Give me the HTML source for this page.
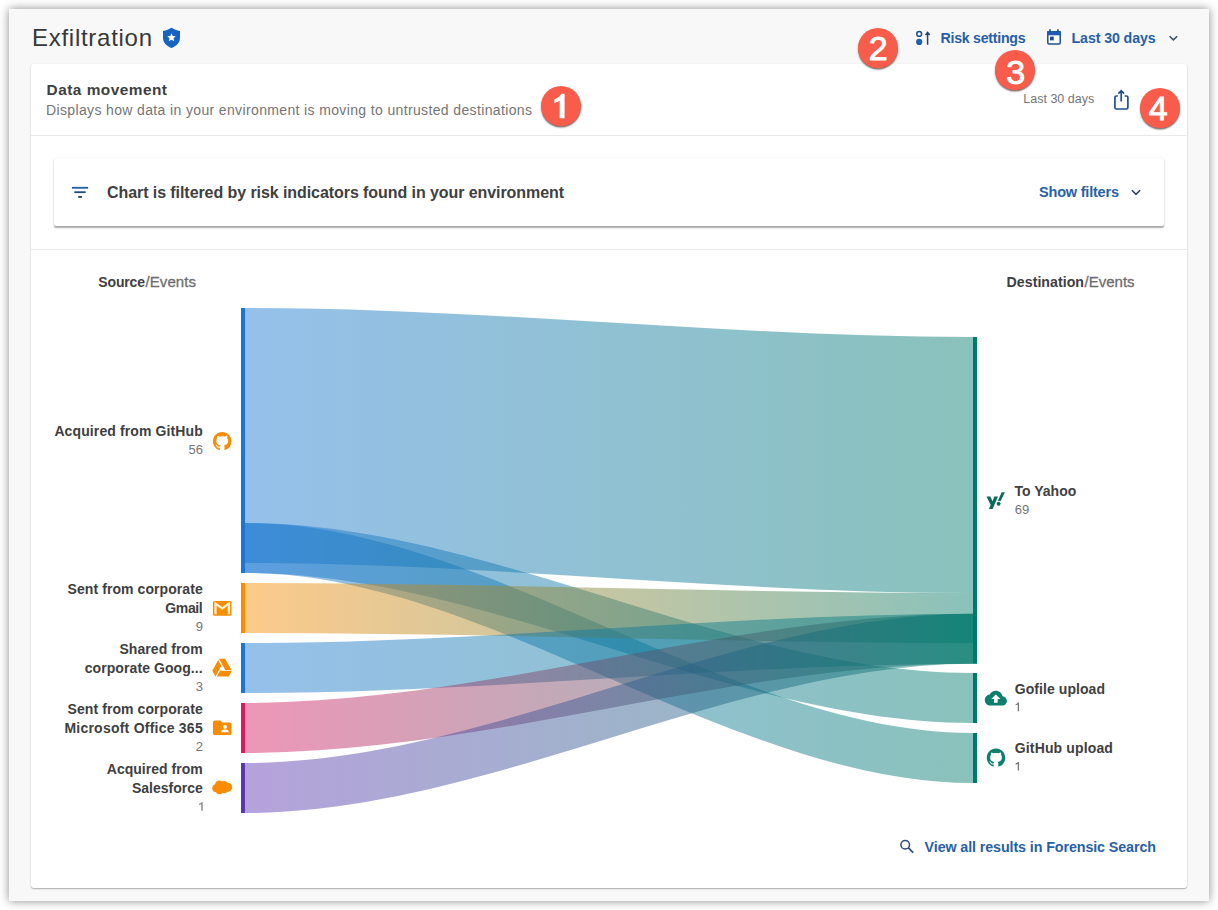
<!DOCTYPE html>
<html><head><meta charset="utf-8"><title>Exfiltration</title>
<style>
html,body{margin:0;padding:0;}
body{width:1218px;height:910px;position:relative;overflow:hidden;background:#fff;font-family:"Liberation Sans",sans-serif;color:#404040;}
.abs{position:absolute;white-space:nowrap;}
#panel{position:absolute;left:9px;top:9px;width:1200px;height:892px;background:#f8f8f8;box-shadow:0 0 9px rgba(0,0,0,.46);}
#card{position:absolute;left:31px;top:64px;width:1156px;height:823.5px;background:#fff;border-radius:3px;box-shadow:0 1px 1.5px rgba(0,0,0,.3),0 0 2px rgba(0,0,0,.06);}
.hr{position:absolute;left:31px;width:1156px;height:1px;background:#e9e9e9;}
#fbox{position:absolute;left:54px;top:158px;width:1110px;height:68px;background:#fff;border-radius:2px;box-shadow:0 1.5px 1.5px rgba(0,0,0,.33),0 0 2px rgba(0,0,0,.07);}
.b{font-weight:bold;}
.blue{color:#2561a9;}
.lbl{font-size:15px;font-weight:bold;color:#424242;line-height:18px;}
.cnt{font-size:12.5px;color:#777;line-height:18px;font-weight:normal;}
.r{text-align:right;}
.badge{position:absolute;width:40px;height:40px;border-radius:50%;background:#f95c4b;box-shadow:0 1.5px 1.5px rgba(60,30,30,.65);}
.bd{position:absolute;width:40px;height:40px;line-height:40px;text-align:center;color:#fff;font-size:34px;font-weight:normal;-webkit-text-stroke:0.9px #fff;}
</style></head><body>
<div id="panel"></div>
<div id="card"></div>
<div class="hr" style="top:135px"></div>
<div id="fbox"></div>
<div class="hr" style="top:249px"></div>
<svg width="1218" height="910" style="position:absolute;left:0;top:0"><defs><linearGradient id="gA" gradientUnits="userSpaceOnUse" x1="245" y1="0" x2="973" y2="0"><stop offset="0" stop-color="#1976d2"/><stop offset="1" stop-color="#00796b"/></linearGradient><linearGradient id="gB" gradientUnits="userSpaceOnUse" x1="245" y1="0" x2="973" y2="0"><stop offset="0" stop-color="#1976d2"/><stop offset="1" stop-color="#00796b"/></linearGradient><linearGradient id="gC" gradientUnits="userSpaceOnUse" x1="245" y1="0" x2="973" y2="0"><stop offset="0" stop-color="#1976d2"/><stop offset="1" stop-color="#00796b"/></linearGradient><linearGradient id="gD" gradientUnits="userSpaceOnUse" x1="245" y1="0" x2="973" y2="0"><stop offset="0" stop-color="#fb8c00"/><stop offset="1" stop-color="#00796b"/></linearGradient><linearGradient id="gE" gradientUnits="userSpaceOnUse" x1="245" y1="0" x2="973" y2="0"><stop offset="0" stop-color="#1976d2"/><stop offset="1" stop-color="#00796b"/></linearGradient><linearGradient id="gF" gradientUnits="userSpaceOnUse" x1="245" y1="0" x2="973" y2="0"><stop offset="0" stop-color="#d81b60"/><stop offset="1" stop-color="#00796b"/></linearGradient><linearGradient id="gG" gradientUnits="userSpaceOnUse" x1="245" y1="0" x2="973" y2="0"><stop offset="0" stop-color="#5e35b1"/><stop offset="1" stop-color="#00796b"/></linearGradient></defs><path d="M245,308 C487.67,308 730.33,337 973,337 L973,593 C730.33,593 487.67,563 245,563 Z" fill="url(#gA)" fill-opacity="0.46"/>
<path d="M245,523 C487.67,523 730.33,673 973,673 L973,723 C730.33,723 487.67,573 245,573 Z" fill="url(#gB)" fill-opacity="0.46"/>
<path d="M245,523 C487.67,523 730.33,733 973,733 L973,783 C730.33,783 487.67,573 245,573 Z" fill="url(#gC)" fill-opacity="0.46"/>
<path d="M245,583 C487.67,583 730.33,593 973,593 L973,643 C730.33,643 487.67,633 245,633 Z" fill="url(#gD)" fill-opacity="0.46"/>
<path d="M245,643 C487.67,643 730.33,613.7 973,613.7 L973,663.7 C730.33,663.7 487.67,693 245,693 Z" fill="url(#gE)" fill-opacity="0.46"/>
<path d="M245,703 C487.67,703 730.33,613.7 973,613.7 L973,663.7 C730.33,663.7 487.67,753 245,753 Z" fill="url(#gF)" fill-opacity="0.46"/>
<path d="M245,763 C487.67,763 730.33,613.7 973,613.7 L973,663.7 C730.33,663.7 487.67,813 245,813 Z" fill="url(#gG)" fill-opacity="0.46"/><rect x="241" y="308" width="4" height="265" fill="#1976d2"/>
<rect x="241" y="583" width="4" height="50" fill="#fb8c00"/>
<rect x="241" y="643" width="4" height="50" fill="#1976d2"/>
<rect x="241" y="703" width="4" height="50" fill="#d81b60"/>
<rect x="241" y="763" width="4" height="50" fill="#5e35b1"/>
<rect x="973" y="337" width="4" height="326.8" fill="#00796b"/>
<rect x="973" y="673" width="4" height="50" fill="#00796b"/>
<rect x="973" y="733" width="4" height="50" fill="#00796b"/></svg>
<div id="title" class="abs" style="top:23.00px;font-size:24px;line-height:29px;color:#383838;letter-spacing:0.723px;left:32.00px;">Exfiltration</div>
<div id="dm" class="abs" style="top:80.00px;font-size:15.4px;line-height:19px;color:#404040;font-weight:bold;letter-spacing:0.481px;left:46.60px;">Data movement</div>
<div id="dmsub" class="abs" style="top:101.00px;font-size:14px;line-height:18px;color:#757575;letter-spacing:0.362px;left:46.00px;">Displays how data in your environment is moving to untrusted destinations</div>
<div id="l30s" class="abs" style="top:91.00px;font-size:12.5px;line-height:16px;color:#757575;letter-spacing:0.001px;left:1023.30px;">Last 30 days</div>
<div id="ftxt" class="abs" style="top:183.00px;font-size:16px;line-height:19px;color:#404040;font-weight:bold;letter-spacing:-0.072px;left:107.00px;">Chart is filtered by risk indicators found in your environment</div>
<div id="sf" class="abs" style="top:183.00px;font-size:14.5px;line-height:18px;color:#285fa6;font-weight:bold;letter-spacing:-0.199px;left:1039.00px;">Show filters</div>
<div id="rs" class="abs" style="top:29.00px;font-size:14.2px;line-height:18px;color:#285fa6;font-weight:bold;letter-spacing:-0.268px;left:940.50px;">Risk settings</div>
<div id="l30" class="abs" style="top:29.00px;font-size:14.2px;line-height:18px;color:#285fa6;font-weight:bold;letter-spacing:-0.090px;left:1071.50px;">Last 30 days</div>
<div id="srch" class="abs" style="top:838.00px;font-size:14.3px;line-height:18px;color:#285fa6;font-weight:bold;letter-spacing:-0.105px;left:924.60px;">View all results in Forensic Search</div>
<div id="hsrca" class="abs" style="top:273.00px;font-size:14px;line-height:18px;color:#404040;font-weight:bold;letter-spacing:-0.154px;left:98.30px;">Source</div>
<div id="hsrcb" class="abs" style="top:272.00px;font-size:15px;line-height:19px;color:#6e6e6e;letter-spacing:0.045px;left:145.60px;"><span style="-webkit-text-stroke:0.3px #6e6e6e">/Events</span></div>
<div id="hdsta" class="abs" style="top:273.00px;font-size:14.2px;line-height:18px;color:#404040;font-weight:bold;letter-spacing:0.015px;left:1006.60px;">Destination</div>
<div id="hdstb" class="abs" style="top:272.00px;font-size:15px;line-height:19px;color:#6e6e6e;letter-spacing:0.011px;left:1084.50px;"><span style="-webkit-text-stroke:0.3px #6e6e6e">/Events</span></div>
<div id="n1" class="abs" style="top:422.00px;font-size:14px;line-height:18px;color:#404040;font-weight:bold;letter-spacing:0.114px;left:54.40px;">Acquired from GitHub</div>
<div id="n1c" class="abs" style="top:441.00px;font-size:13px;line-height:17px;color:#757575;right:1015.00px;">56</div>
<div id="n2a" class="abs" style="top:580.00px;font-size:14px;line-height:18px;color:#404040;font-weight:bold;letter-spacing:0.072px;left:67.60px;">Sent from corporate</div>
<div id="n2b" class="abs" style="top:599.00px;font-size:14px;line-height:18px;color:#404040;font-weight:bold;letter-spacing:-0.377px;left:165.30px;">Gmail</div>
<div id="n2c" class="abs" style="top:618.00px;font-size:13px;line-height:17px;color:#757575;right:1015.10px;">9</div>
<div id="n3a" class="abs" style="top:640.00px;font-size:14px;line-height:18px;color:#404040;font-weight:bold;letter-spacing:0.083px;left:119.40px;">Shared from</div>
<div id="n3b" class="abs" style="top:659.00px;font-size:14px;line-height:18px;color:#404040;font-weight:bold;letter-spacing:0.082px;left:84.70px;">corporate Goog...</div>
<div id="n3c" class="abs" style="top:678.00px;font-size:13px;line-height:17px;color:#757575;right:1015.10px;">3</div>
<div id="n4a" class="abs" style="top:700.00px;font-size:14px;line-height:18px;color:#404040;font-weight:bold;letter-spacing:0.072px;left:67.60px;">Sent from corporate</div>
<div id="n4b" class="abs" style="top:719.00px;font-size:14px;line-height:18px;color:#404040;font-weight:bold;letter-spacing:0.235px;left:64.40px;">Microsoft Office 365</div>
<div id="n4c" class="abs" style="top:738.00px;font-size:13px;line-height:17px;color:#757575;right:1015.10px;">2</div>
<div id="n5a" class="abs" style="top:760.00px;font-size:14px;line-height:18px;color:#404040;font-weight:bold;letter-spacing:0.018px;left:106.80px;">Acquired from</div>
<div id="n5b" class="abs" style="top:779.00px;font-size:14px;line-height:18px;color:#404040;font-weight:bold;letter-spacing:-0.014px;left:132.00px;">Salesforce</div>
<div id="d1" class="abs" style="top:482.00px;font-size:14px;line-height:18px;color:#404040;font-weight:bold;letter-spacing:0.012px;left:1014.50px;">To Yahoo</div>
<div id="d1c" class="abs" style="top:501.00px;font-size:13px;line-height:17px;color:#757575;left:1014.80px;">69</div>
<div id="d2" class="abs" style="top:680.00px;font-size:14px;line-height:18px;color:#404040;font-weight:bold;letter-spacing:0.062px;left:1014.80px;">Gofile upload</div>
<div id="d3" class="abs" style="top:739.00px;font-size:14px;line-height:18px;color:#404040;font-weight:bold;letter-spacing:0.139px;left:1014.80px;">GitHub upload</div><svg width="1218" height="910" style="position:absolute;left:0;top:0"><path d="M202.60,802.20 L202.60,810.80 L201.35,810.80 L201.35,804.10 L199.20,804.90 L199.20,803.80 Q201.10,803.20 201.65,802.20 Z" fill="#757575"/><path d="M1019.00,702.60 L1019.00,711.20 L1017.75,711.20 L1017.75,704.50 L1015.60,705.30 L1015.60,704.20 Q1017.50,703.60 1018.05,702.60 Z" fill="#757575"/><path d="M1019.00,762.00 L1019.00,770.60 L1017.75,770.60 L1017.75,763.90 L1015.60,764.70 L1015.60,763.60 Q1017.50,763.00 1018.05,762.00 Z" fill="#757575"/></svg>

<svg id="icons" width="1218" height="910" style="position:absolute;left:0;top:0">
<!-- shield -->
<g id="ishield"><path d="M171.5,27.8 C174,29.4 177,30.6 180,31.1 L180,37.8 C180,42.6 176.4,46.4 171.5,48 C166.6,46.4 163,42.6 163,37.8 L163,31.1 C166,30.6 169,29.4 171.5,27.8 Z" fill="#1763c2"/>
<path d="M171.5,33.2 L172.75,36.0 L175.8,36.3 L173.5,38.3 L174.2,41.3 L171.5,39.7 L168.8,41.3 L169.5,38.3 L167.2,36.3 L170.25,36.0 Z" fill="#fff"/></g>
<!-- risk settings icon -->
<g id="irisk"><circle cx="919.2" cy="33.9" r="2.4" fill="none" stroke="#1f4f91" stroke-width="1.5"/>
<circle cx="919.2" cy="41.9" r="3.1" fill="#1f5fb4"/>
<path d="M927.6,44.7 L927.6,32.8 M925.5,34.9 L927.6,32.5 L929.7,34.9" fill="none" stroke="#25426b" stroke-width="1.5" stroke-linejoin="miter"/></g>
<!-- calendar -->
<g id="ical"><rect x="1047.8" y="31.8" width="12.4" height="12.2" rx="1.2" fill="#fff" stroke="#224c8c" stroke-width="1.5"/>
<rect x="1047.1" y="31.1" width="13.8" height="4.2" fill="#1f5cb0"/>
<rect x="1049.2" y="29.2" width="1.6" height="3" fill="#224c8c"/><rect x="1057.2" y="29.2" width="1.6" height="3" fill="#224c8c"/>
<rect x="1050" y="36.6" width="3.8" height="3.8" fill="#224c8c"/></g>
<!-- chevrons -->
<path id="ichev1" d="M1169.6,36.2 L1173.4,39.9 L1177.2,36.2" fill="none" stroke="#3a4d68" stroke-width="1.5"/>
<path id="ichev2" d="M1131.9,190.3 L1136,194.3 L1140.1,190.3" fill="none" stroke="#33445f" stroke-width="1.6"/>
<!-- share -->
<g id="ishare" fill="none" stroke="#1f4f91" stroke-width="1.7"><path d="M1117.8,96 L1116.4,96 Q1114.9,96 1114.9,97.5 L1114.9,107.5 Q1114.9,109 1116.4,109 L1126.4,109 Q1127.9,109 1127.9,107.5 L1127.9,97.5 Q1127.9,96 1126.4,96 L1124.6,96"/>
<path d="M1121.2,101.5 L1121.2,91 M1118.3,93.6 L1121.2,90.6 L1124.1,93.6"/></g>
<!-- filter -->
<g id="ifilter"><rect x="71.9" y="186.9" width="16.2" height="1.8" fill="#1f5cb0"/><rect x="74.3" y="191.3" width="11.4" height="1.8" fill="#2a4a7c"/><rect x="78.2" y="196" width="3.8" height="1.8" fill="#2a4060"/></g>
<!-- search -->
<g id="isearch" fill="none" stroke="#2c4a7a" stroke-width="1.5"><circle cx="905.2" cy="844.7" r="4.3"/><path d="M908.4,847.9 L913.2,852.6" stroke-width="1.7"/></g>
<!-- github orange -->
<g id="igh1" transform="translate(212.95,431.9) scale(1.155)"><path d="M8 0C3.58 0 0 3.58 0 8c0 3.54 2.29 6.53 5.47 7.59.4.07.55-.17.55-.38 0-.19-.01-.82-.01-1.49-2.01.37-2.53-.49-2.69-.94-.09-.23-.48-.94-.82-1.13-.28-.15-.68-.52-.01-.53.63-.01 1.08.58 1.23.82.72 1.21 1.87.87 2.33.66.07-.52.28-.87.51-1.07-1.78-.2-3.64-.89-3.64-3.95 0-.87.31-1.59.82-2.15-.08-.2-.36-1.02.08-2.12 0 0 .67-.21 2.2.82.64-.18 1.32-.27 2-.27.68 0 1.36.09 2 .27 1.53-1.04 2.2-.82 2.2-.82.44 1.1.16 1.92.08 2.12.51.56.82 1.27.82 2.15 0 3.07-1.87 3.75-3.65 3.95.29.25.54.73.54 1.48 0 1.07-.01 1.93-.01 2.2 0 .21.15.46.55.38A8.013 8.013 0 0016 8c0-4.42-3.58-8-8-8z" fill="#f88c05"/></g>
<!-- gmail -->
<g id="igmail"><rect x="212.9" y="601" width="18.6" height="14.8" rx="1.6" fill="#f88c05"/>
<path d="M215.5,614.2 L215.5,603.6 L222.2,608.4 L228.9,603.6 L228.9,614.2" fill="none" stroke="#fff3d0" stroke-width="2.2" stroke-linejoin="miter"/></g>
<!-- drive -->
<g id="idrive" transform="translate(211.25,656.8) scale(0.905,0.935)"><path d="M7.71,3.5L1.15,15L4.58,21L11.13,9.5M9.73,15L6.3,21H19.42L22.85,15M22.28,14L15.42,2H8.58L8.57,2L15.43,14H22.28Z" fill="#f88c05"/></g>
<!-- folder shared -->
<g id="ifolder" transform="translate(211.05,717) scale(0.93,0.9)"><path d="M20 6h-8l-2-2H4c-1.1 0-1.99.9-1.99 2L2 18c0 1.1.9 2 2 2h16c1.1 0 2-.9 2-2V8c0-1.1-.9-2-2-2zm-5 3c1.1 0 2 .9 2 2s-.9 2-2 2-2-.9-2-2 .9-2 2-2zm4 8h-8v-1c0-1.33 2.67-2 4-2s4 .67 4 2v1z" fill="#f88c05"/></g>
<!-- salesforce -->
<g id="isf" fill="#f88c05"><circle cx="216.3" cy="788.2" r="4"/><circle cx="219.3" cy="785" r="4.4"/><circle cx="224" cy="785.3" r="4.2"/><circle cx="227.6" cy="787.3" r="4.6"/><circle cx="219.5" cy="790" r="4.2"/><circle cx="224" cy="789.3" r="4"/></g>
<!-- yahoo -->
<g id="iyahoo" fill="#0d6b5e"><path d="M986.5,496.4 L990.4,496.4 L992.5,501.3 L994.4,496.4 L998.0,496.4 L992.7,508.9 L988.9,508.9 L990.7,504.9 Z"/>
<path d="M1001.6,492.3 L1004.9,492.3 L1000.7,500.9 L997.9,500.9 Z"/><circle cx="998.6" cy="503.7" r="1.95"/></g>
<!-- cloud upload -->
<g id="icloud" transform="translate(984.8,686.9) scale(0.92,0.935)"><path d="M19.35 10.04C18.67 6.59 15.64 4 12 4 9.11 4 6.6 5.64 5.35 8.04 2.34 8.36 0 10.91 0 14c0 3.31 2.69 6 6 6h13c2.76 0 5-2.24 5-5 0-2.64-2.05-4.78-4.65-4.96zM14 13v4h-4v-4H7l5-5 5 5h-3z" fill="#0d7f6c"/></g>
<!-- github teal -->
<g id="igh2" transform="translate(986.75,748.6) scale(1.155)"><path d="M8 0C3.58 0 0 3.58 0 8c0 3.54 2.29 6.53 5.47 7.59.4.07.55-.17.55-.38 0-.19-.01-.82-.01-1.49-2.01.37-2.53-.49-2.69-.94-.09-.23-.48-.94-.82-1.13-.28-.15-.68-.52-.01-.53.63-.01 1.08.58 1.23.82.72 1.21 1.87.87 2.33.66.07-.52.28-.87.51-1.07-1.78-.2-3.64-.89-3.64-3.95 0-.87.31-1.59.82-2.15-.08-.2-.36-1.02.08-2.12 0 0 .67-.21 2.2.82.64-.18 1.32-.27 2-.27.68 0 1.36.09 2 .27 1.53-1.04 2.2-.82 2.2-.82.44 1.1.16 1.92.08 2.12.51.56.82 1.27.82 2.15 0 3.07-1.87 3.75-3.65 3.95.29.25.54.73.54 1.48 0 1.07-.01 1.93-.01 2.2 0 .21.15.46.55.38A8.013 8.013 0 0016 8c0-4.42-3.58-8-8-8z" fill="#0d7f6c"/></g>
</svg>

<div class="badge" style="left:541px;top:85.6px;"></div>
<div class="badge" style="left:858px;top:27.6px;"></div>
<div class="badge" style="left:995px;top:49.8px;"></div>
<div class="badge" style="left:1140px;top:88.3px;"></div>
<svg width="1218" height="910" style="position:absolute;left:0;top:0"><path id="b1" d="M564.6,93.8 L564.6,118.2 L559.7,118.2 L559.7,101.0 L554.4,102.9 L554.4,99.3 Q559.6,97.6 561.2,93.8 Z" fill="#fff"/></svg>
<div id="b2" class="bd" style="left:858.3px;top:28.3px;">2</div>
<div id="b3" class="bd" style="left:995.6px;top:52.2px;">3</div>
<div id="b4" class="bd" style="left:1138.3px;top:87.6px;">4</div>
</body></html>
